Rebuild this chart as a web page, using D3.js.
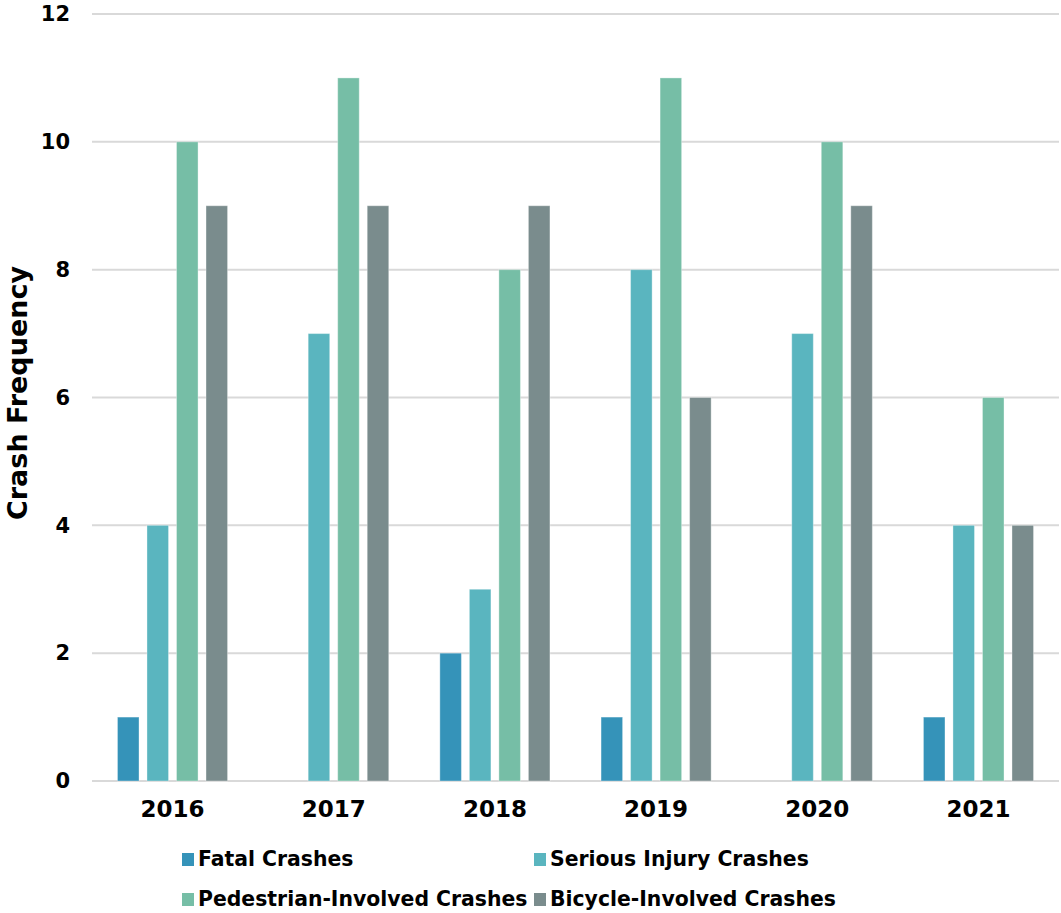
<!DOCTYPE html>
<html>
<head>
<meta charset="utf-8">
<script src="https://cdn.jsdelivr.net/npm/d3@7"></script>
<style>
  body { margin: 0; background: #fff; }
  svg text { font-family: "DejaVu Sans", Verdana, sans-serif; font-weight: bold; fill: #000; }
</style>
</head>
<body>
<svg id="chart" width="1061" height="913"></svg>
<script>
// chart data
var years = ["2016", "2017", "2018", "2019", "2020", "2021"];
var seriesNames = ["Fatal Crashes", "Serious Injury Crashes", "Pedestrian-Involved Crashes", "Bicycle-Involved Crashes"];
var fatal = [1, 0, 2, 1, 0, 1];
var serious = [4, 7, 3, 8, 7, 4];
var pedestrian = [10, 11, 8, 11, 10, 6];
var bicycle = [9, 9, 9, 6, 9, 4];
var yTicks = [0, 2, 4, 6, 8, 10, 12];
var colors = ["#3593b9", "#5ab5bf", "#76bea6", "#7a8c8d"];

var allSeries = [fatal, serious, pedestrian, bicycle];

var svg = d3.select("#chart");
var margin = {left: 92, right: 2, top: 14, bottom: 132};
var W = 1061, H = 913;

var x = d3.scaleBand().domain(years).range([margin.left, W - margin.right]).paddingInner(0.317).paddingOuter(0.158);
var xs = d3.scaleBand().domain(seriesNames).range([0, x.bandwidth()]).paddingInner(0.27).paddingOuter(0);
var y = d3.scaleLinear().domain([0, 12]).range([H - margin.bottom, margin.top]);

// gridlines
svg.append("g").selectAll("line").data(yTicks).enter().append("line")
    .attr("x1", margin.left).attr("x2", W - margin.right)
    .attr("y1", function(d){ return y(d) }).attr("y2", function(d){ return y(d) })
    .attr("stroke", "#d9d9d9").attr("stroke-width", 2);

// y axis labels
var yAxis = d3.axisLeft(y).tickValues(yTicks).tickSize(0).tickPadding(22);
var gy = svg.append("g").attr("transform", "translate(" + margin.left + ",0)").call(yAxis);
gy.select(".domain").remove();
gy.selectAll("text").style("font-size", "21px").style("font-family", "DejaVu Sans").style("font-weight", "bold").attr("fill", "#000");

// x axis labels
var xAxis = d3.axisBottom(x).tickSize(0).tickPadding(20);
var gx = svg.append("g").attr("transform", "translate(0," + y(0) + ")").call(xAxis);
gx.select(".domain").remove();
gx.selectAll("text").style("font-size", "23px").style("font-family", "DejaVu Sans").style("font-weight", "bold").attr("fill", "#000");

// bars
var groups = svg.append("g").selectAll("g").data(years).enter().append("g")
    .attr("transform", function(d){ return "translate(" + x(d) + ",0)" });
groups.selectAll("rect")
    .data(function(d, i){ return seriesNames.map(function(s, j){ return {name: s, value: allSeries[j][i], idx: j} }) })
    .enter().append("rect")
    .filter(function(d){ return d.value > 0 })
    .attr("x", function(d){ return xs(d.name) })
    .attr("width", xs.bandwidth())
    .attr("y", function(d){ return y(d.value) })
    .attr("height", function(d){ return y(0) - y(d.value) })
    .attr("fill", function(d){ return colors[d.idx] })
    .attr("stroke", "#ffffff").attr("stroke-opacity", 0.35).attr("stroke-width", 1);

// y axis title
svg.append("text")
    .attr("transform", "translate(27,393) rotate(-90)")
    .attr("text-anchor", "middle")
    .style("font-size", "27px")
    .text("Crash Frequency");

// legend
var legendPos = [[182, 859], [534, 859], [182, 899], [534, 899]];
var legend = svg.append("g").selectAll("g").data(seriesNames).enter().append("g")
    .attr("transform", function(d, i){ return "translate(" + legendPos[i][0] + "," + legendPos[i][1] + ")" });
legend.append("rect").attr("x", 0).attr("y", -6).attr("width", 12).attr("height", 13)
    .attr("fill", function(d, i){ return colors[i] });
legend.append("text").attr("x", 16).attr("dy", "0.36em")
    .style("font-size", "20.4px").text(function(d){ return d });
</script>
</body>
</html>
